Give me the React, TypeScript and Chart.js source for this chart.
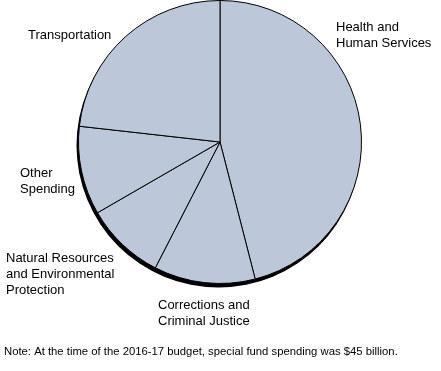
import React, { useEffect, useRef } from "react";
import { Chart, registerables } from "chart.js";

Chart.register(...registerables);

// Special fund spending by program area, 2016-17 ($ billions)
const categories: string[] = [
  "Health and Human Services",
  "Corrections and Criminal Justice",
  "Natural Resources and Environmental Protection",
  "Other Spending",
  "Transportation",
];
const spending: number[] = [20.7, 5.2, 4.1, 4.55, 10.45];
const labelLines: string[][] = [
  ["Health and", "Human Services"],
  ["Corrections and", "Criminal Justice"],
  ["Natural Resources", "and Environmental", "Protection"],
  ["Other", "Spending"],
  ["Transportation"],
];
const noteText = "Note: At the time of the 2016-17 budget, special fund spending was $45 billion.";

// label anchor (left, first-line middle) relative to pie centre
const labelOffsets: [number, number][] = [
  [116, -115],
  [-62, 163],
  [-214, 116],
  [-200, 31],
  [-192, -107],
];

const FONT = "'Liberation Sans', Arial, sans-serif";

const labelPlugin = {
  id: "sliceLabels",
  beforeDatasetsDraw(chart: any) {
    const meta = chart.getDatasetMeta(0);
    const arc = meta.data[0];
    if (!arc) return;
    const ctx = chart.ctx;
    ctx.save();
    ctx.fillStyle = "#000000";
    ctx.beginPath();
    ctx.arc(arc.x - 1.5, arc.y + 3.5, arc.outerRadius + 0.5, 0, Math.PI * 2);
    ctx.fill();
    ctx.restore();
  },
  afterDraw(chart: any) {
    const meta = chart.getDatasetMeta(0);
    const arc = meta.data[0];
    if (!arc) return;
    const ctx = chart.ctx;
    ctx.save();
    ctx.fillStyle = "#000000";
    ctx.font = `13px ${FONT}`;
    ctx.textBaseline = "middle";
    ctx.textAlign = "left";
    labelLines.forEach((lines, i) => {
      const [dx, dy] = labelOffsets[i];
      lines.forEach((line, j) => {
        ctx.fillText(line, arc.x + dx, arc.y + dy + j * 16);
      });
    });
    ctx.font = `11.3px ${FONT}`;
    ctx.fillText(noteText, 4, 352);
    ctx.restore();
  },
};

export default function App() {
  const ref = useRef<HTMLCanvasElement | null>(null);
  useEffect(() => {
    document.body.style.margin = "0";
    const canvas = ref.current;
    if (!canvas) return;
    const chart = new Chart(canvas, {
      type: "pie",
      data: {
        labels: categories,
        datasets: [
          {
            data: spending,
            backgroundColor: "#bcc7d9",
            borderColor: "#000000",
            borderWidth: 1,
            hoverOffset: 0,
            borderAlign: "center",
          },
        ],
      },
      options: {
        responsive: false,
        animation: false,
        events: [],
        layout: { padding: { left: 77, right: 78, top: -1, bottom: 87 } },
        plugins: {
          legend: { display: false },
          tooltip: { enabled: false },
          title: { display: false },
        },
      },
      plugins: [labelPlugin],
    });
    return () => chart.destroy();
  }, []);
  return (
    <div style={{ position: "absolute", left: 0, top: 0, width: 441, height: 371, background: "#ffffff" }}>
      <canvas ref={ref} width={441} height={371} style={{ display: "block" }} />
    </div>
  );
}
